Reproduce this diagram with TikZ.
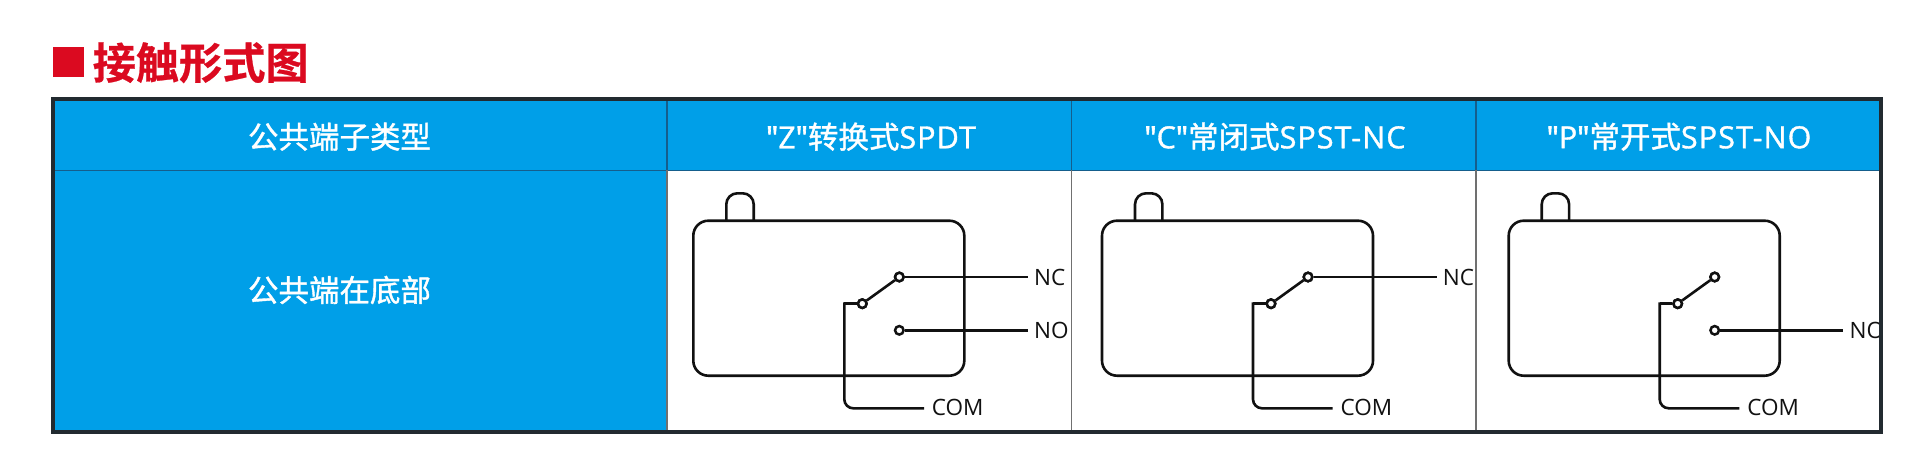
\documentclass[tikz,border=0pt]{standalone}
\usepackage{fontspec}
\setmainfont{Open Sans}
\newfontfamily\cjk[FakeBold=1.2]{Noto Sans CJK SC}
\newfontfamily\cjkb[FakeBold=0.6]{Noto Sans CJK SC Bold}
\newfontfamily\lat[FakeBold=1.2,LetterSpace=3.5]{Open Sans}
\newfontfamily\latq[FakeBold=2,LetterSpace=3.5]{Open Sans}
\newfontfamily\latl{Open Sans}
\definecolor{hdrblue}{HTML}{009FE8}
\definecolor{titlered}{HTML}{DB0A20}
\definecolor{frame}{HTML}{222A30}
\definecolor{hdrline}{HTML}{155E8C}
\definecolor{bodyline}{HTML}{707070}
\definecolor{wire}{HTML}{111111}
\tikzset{
  hdrtext/.style={text=white,inner sep=0pt,font=\fontsize{30.5}{36}\selectfont},
  termlabel/.style={text=wire,anchor=west,inner sep=0pt,inner xsep=6pt,font=\fontsize{22.5}{26}\selectfont\latl},
  contact/.style={circle,draw=wire,line width=2.5pt,fill=white,minimum size=8.5pt,inner sep=0pt},
  wirepath/.style={draw=wire,line width=2.6pt},
  pics/relaybase/.style={code={
    \path[wirepath,rounded corners=15pt] (693.3,220.7) rectangle (964.3,375.7);
    \path[wirepath,rounded corners=11pt] (726.3,220.7) -- (726.3,193.3) -- (753.7,193.3) -- (753.7,220.7);
    \node[contact] (-up) at (899.3,277) {};
    \node[contact] (-lo) at (862.3,303.7) {};
    \coordinate (-bendA) at (844.3,303.7);
    \coordinate (-bendB) at (844.3,408.3);
    \node[termlabel,inner xsep=9pt] (-com) at (922.7,407) {COM};
    \coordinate (-comend) at (922.7,408.3);
    \path[wirepath] (-lo) -- (-up);
    \path[wirepath] (-lo) -- (-bendA);
    \path[wirepath,rounded corners=9pt,line cap=rect] (-bendA) -- (-bendB) -- (-comend);
    \node[contact] at (-lo) {};
    \node[contact] at (-up) {};
  }}
}
\begin{document}
\begin{tikzpicture}[x=1pt,y=-1pt]
\useasboundingbox[fill=white] (0,0) rectangle (1920,469);
% table fills
\fill[hdrblue] (53,99) rectangle (1881,170.3);
\fill[hdrblue] (53,170.3) rectangle (667,432);
% title
\fill[titlered] (52.7,47.3) rectangle (84,77.3);
\node[anchor=west,inner sep=0pt,text=titlered,font=\fontsize{43.2}{50}\selectfont\cjkb] (title) at (92.5,62.7) {接触形式图};
% headers
\node[hdrtext] (h1) at (339.5,136.7) {\cjk 公共端子类型};
\node[hdrtext] (h2) at (871,136.7) {\latq "\lat Z\latq "\cjk 转换式\lat SPDT};
\node[hdrtext] (h3) at (1275,136.7) {\latq "\lat C\latq "\cjk 常闭式\lat SPST-NC};
\node[hdrtext] (h4) at (1679,136.7) {\latq "\lat P\latq "\cjk 常开式\lat SPST-NO};
\node[hdrtext] (b1) at (339.5,290) {\cjk 公共端在底部};
% panel Z
\begin{scope}
  \pic (z) at (0,0) {relaybase};
  \node[contact] (zno) at (899.3,330.3) {};
  \node[termlabel] (zNC) at (1028,277) {NC};
  \node[termlabel] (zNO) at (1028,330.3) {NO};
  \path[wirepath] (z-up) -- (zNC);
  \path[wirepath] (zno) -- (zNO);
\end{scope}
% panel C
\begin{scope}[shift={(408.7,0)}]
  \pic (c) at (0,0) {relaybase};
  \node[termlabel] (cNC) at (1028,277) {NC};
  \path[wirepath] (c-up) -- (cNC);
\end{scope}
% panel P
\begin{scope}[shift={(815.4,0)}]
  \pic (p) at (0,0) {relaybase};
  \node[contact] (pno) at (899.3,330.3) {};
  \node[termlabel] (pNO) at (1028,330.3) {NO};
  \path[wirepath] (pno) -- (pNO);
\end{scope}
% grid lines
\draw[hdrline,line width=1.3pt] (53,170.3) -- (1881,170.3);
\draw[hdrline,line width=1.3pt] (667,99) -- (667,170.3) (1071.5,99) -- (1071.5,170.3) (1476,99) -- (1476,170.3);
\draw[bodyline,line width=1.5pt] (667,170.3) -- (667,432) (1071.5,170.3) -- (1071.5,432) (1476,170.3) -- (1476,432);
\draw[frame,line width=3.4pt] (53,99) rectangle (1881,432);
\end{tikzpicture}
\end{document}
